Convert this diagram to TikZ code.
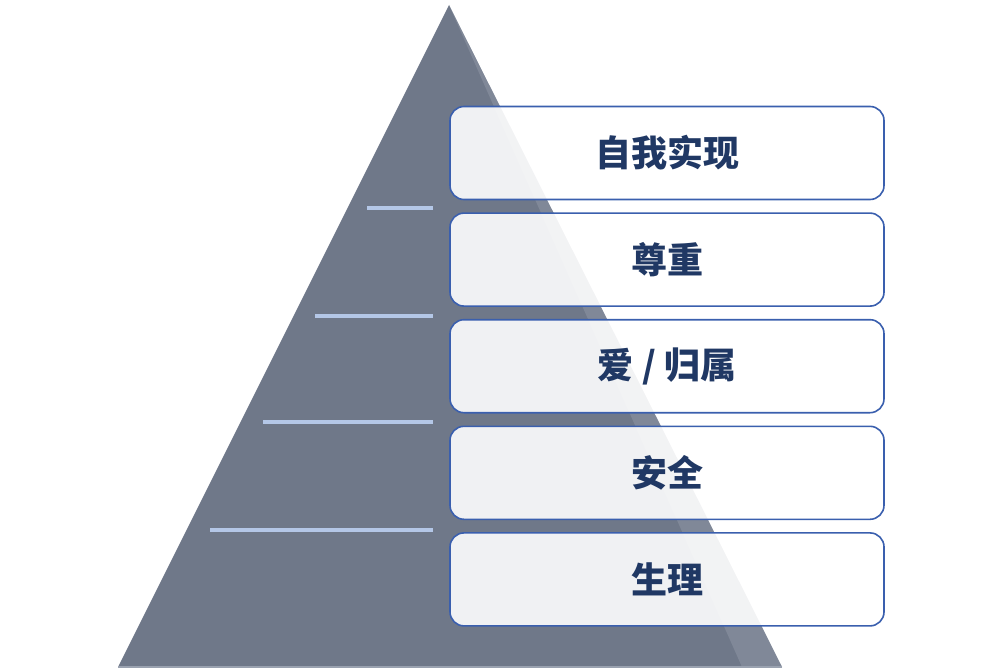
\documentclass[tikz,border=0pt]{standalone}
\usepackage{fontspec}
\newfontfamily\cjk{Noto Sans CJK SC}
\usepackage{tikz}
\usetikzlibrary{positioning}
\definecolor{pyrgray}{HTML}{6F7889}
\definecolor{pyrlight}{HTML}{9AA2B0}
\definecolor{boxblue}{HTML}{3A5FAE}
\definecolor{textnavy}{HTML}{203864}
\definecolor{lineblue}{HTML}{B4C7E7}

\begin{document}
\begin{tikzpicture}[x=1pt, y=-1pt]
	\useasboundingbox (0,0) rectangle (1000,671);
	% pyramid
	\fill[pyrgray] (449,5) -- (782,667) -- (118,667) -- cycle;
	\fill[pyrlight, opacity=0.4] (449,5) -- (782,667) -- (742,667) -- cycle;
	\draw[pyrlight, line width=1.5pt] (118,667) -- (782,667);

	\begin{scope}[every path/.style={draw=lineblue, line width=4.5pt}]
		\draw (367,208) -- (433,208);
		\draw (315,316) -- (433,316);
		\draw (263,422) -- (433,422);
		\draw (210,530) -- (433,530);
	\end{scope}

	\begin{scope}[every node/.style={draw=boxblue, line width=1.6pt, fill=white, fill opacity=0.9,
	              text opacity=1, rounded corners=14pt, minimum width=434pt, minimum height=93pt,
	              inner sep=0pt, text=textnavy, font=\cjk\bfseries\fontsize{36pt}{40pt}\selectfont},
	              node distance=12pt]
		\node (self) at (667,153) {自我实现};
		\node[below=of self] (esteem) {尊重};
		\node[below=of esteem] (love) {爱 / 归属};
		\node[below=of love] (safety) {安全};
		\node[below=of safety] (body) {生理};
	\end{scope}
\end{tikzpicture}
\end{document}
